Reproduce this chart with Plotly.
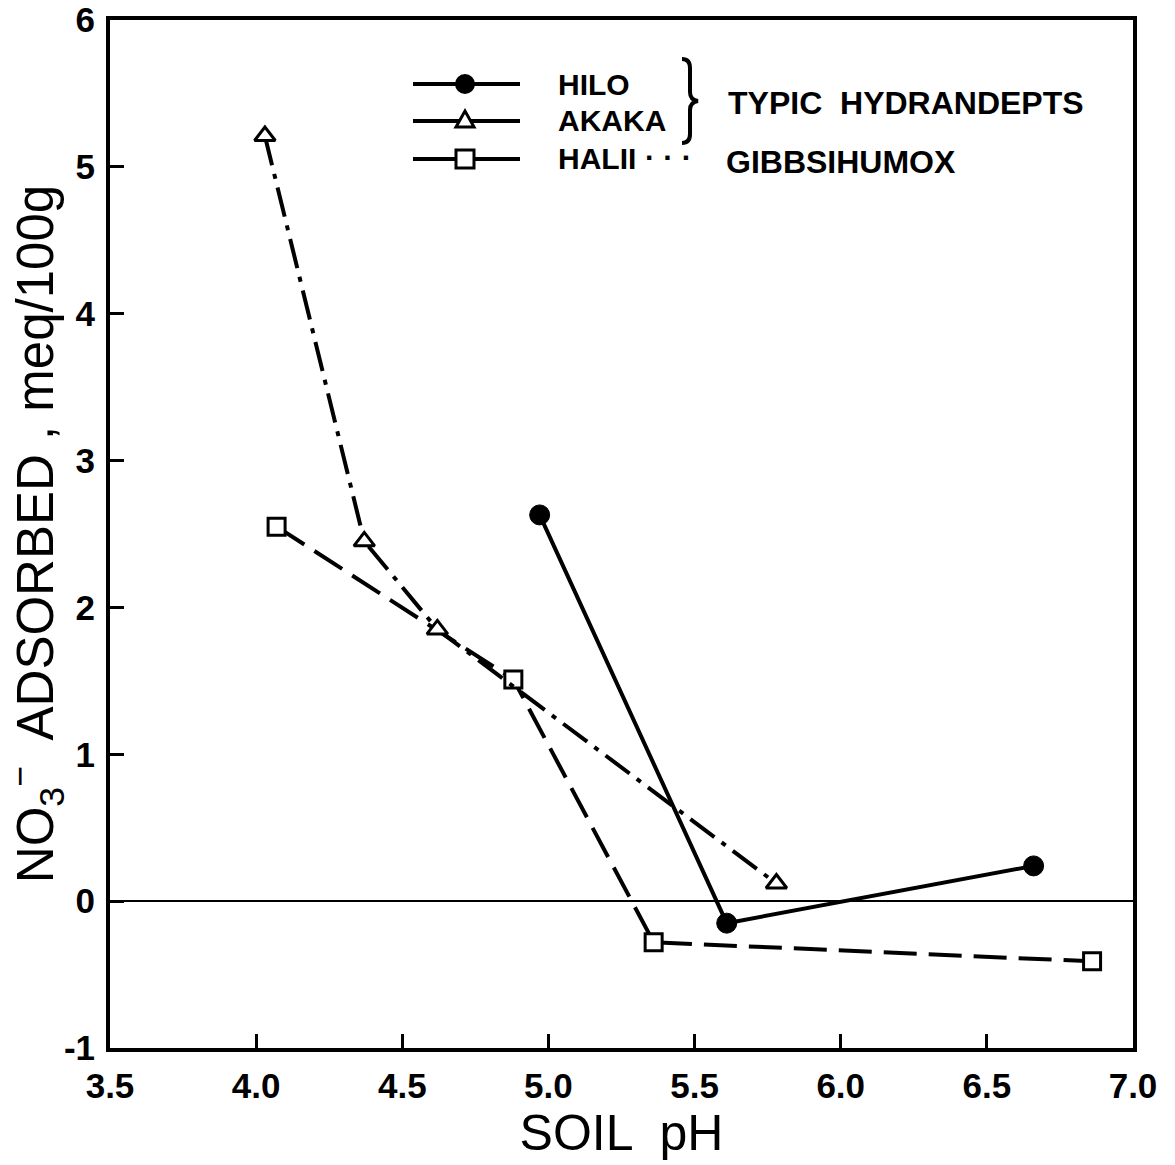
import plotly.graph_objects as go

# ---- data ----
hilo_ph = [4.97, 5.61, 6.66]
hilo_no3 = [2.63, -0.15, 0.24]

akaka_ph = [4.03, 4.37, 4.62, 5.78]
akaka_no3 = [5.21, 2.45, 1.85, 0.12]

halii_ph = [4.07, 4.88, 5.36, 6.86]
halii_no3 = [2.55, 1.51, -0.28, -0.41]

x_ticks = [3.5, 4.0, 4.5, 5.0, 5.5, 6.0, 6.5, 7.0]
x_tick_text = ["3.5", "4.0", "4.5", "5.0", "5.5", "6.0", "6.5", "7.0"]
y_ticks = [-1, 0, 1, 2, 3, 4, 5, 6]
y_tick_text = ["-1", "0", "1", "2", "3", "4", "5", "6"]

# ---- layout geometry (pixels) ----
FW, FH = 1175, 1165
L, R, T, B = 110, 1133, 20, 1048


def pxx(x):
    return (x - L) / (R - L)


def pxy(y):
    return 1 - (y - T) / (B - T)


FONT = "Liberation Sans, Arial, sans-serif"
LW = 4

fig = go.Figure()

fig.add_trace(go.Scatter(
    x=halii_ph, y=halii_no3, mode="lines+markers", name="HALII",
    line=dict(color="black", width=LW, dash="33px,12px"),
    marker=dict(symbol="square", size=17, color="white",
                line=dict(color="black", width=3)),
))
fig.add_trace(go.Scatter(
    x=akaka_ph, y=akaka_no3, mode="lines+markers", name="AKAKA",
    line=dict(color="black", width=LW, dash="30px,9px,5px,9px"),
    marker=dict(symbol="triangle-up", size=18, color="white",
                line=dict(color="black", width=3)),
))
fig.add_trace(go.Scatter(
    x=hilo_ph, y=hilo_no3, mode="lines+markers", name="HILO",
    line=dict(color="black", width=LW),
    marker=dict(symbol="circle", size=20, color="black",
                line=dict(color="black", width=1)),
))

shapes = []
annotations = []

# custom legend
rows = [(84, "HILO", "circle"), (121, "AKAKA", "triangle"), (159, "HALII", "square")]
for yy, label, sym in rows:
    shapes.append(dict(type="line", xref="paper", yref="paper",
                       x0=pxx(413), x1=pxx(520), y0=pxy(yy), y1=pxy(yy),
                       line=dict(color="black", width=LW)))
    if sym == "circle":
        shapes.append(dict(type="circle", xref="paper", yref="paper",
                           xsizemode="pixel", ysizemode="pixel",
                           xanchor=pxx(465), yanchor=pxy(yy),
                           x0=-9, x1=9, y0=-9, y1=9,
                           fillcolor="black", line=dict(color="black", width=2)))
    elif sym == "triangle":
        shapes.append(dict(type="path", xref="paper", yref="paper",
                           xsizemode="pixel", ysizemode="pixel",
                           xanchor=pxx(465), yanchor=pxy(yy),
                           path="M -9,-6 L 9,-6 L 0,10 Z",
                           fillcolor="white", line=dict(color="black", width=3)))
    else:
        shapes.append(dict(type="rect", xref="paper", yref="paper",
                           xsizemode="pixel", ysizemode="pixel",
                           xanchor=pxx(465), yanchor=pxy(yy),
                           x0=-9, x1=9, y0=-9, y1=9,
                           fillcolor="white", line=dict(color="black", width=3)))
    annotations.append(dict(xref="paper", yref="paper", x=pxx(556), y=pxy(yy),
                            xanchor="left", yanchor="middle", showarrow=False,
                            text="<b>" + label + "</b>",
                            font=dict(family=FONT, size=30, color="black")))

# curly brace grouping HILO and AKAKA
shapes.append(dict(type="path", xref="paper", yref="paper",
                   xsizemode="pixel", ysizemode="pixel",
                   xanchor=pxx(690), yanchor=pxy(101),
                   path="M -8,42 Q 0,42 0,33 L 0,9 Q 0,1 8,0 Q 0,-1 0,-9 L 0,-33 Q 0,-42 -8,-42",
                   line=dict(color="black", width=4)))

annotations.append(dict(xref="paper", yref="paper", x=pxx(726), y=pxy(103),
                        xanchor="left", yanchor="middle", showarrow=False,
                        text="<b>TYPIC  HYDRANDEPTS</b>",
                        font=dict(family=FONT, size=32, color="black")))
annotations.append(dict(xref="paper", yref="paper", x=pxx(668), y=pxy(158),
                        xanchor="center", yanchor="middle", showarrow=False,
                        text="<b>· · ·</b>",
                        font=dict(family=FONT, size=30, color="black")))
annotations.append(dict(xref="paper", yref="paper", x=pxx(724), y=pxy(162),
                        xanchor="left", yanchor="middle", showarrow=False,
                        text="<b>GIBBSIHUMOX</b>",
                        font=dict(family=FONT, size=32, color="black")))

fig.update_layout(
    width=FW, height=FH,
    margin=dict(l=L, r=FW - R, t=T, b=FH - B, autoexpand=False),
    paper_bgcolor="white", plot_bgcolor="white",
    showlegend=False,
    shapes=shapes, annotations=annotations,
    font=dict(family=FONT, color="black"),
)

fig.update_xaxes(
    range=[3.5, 7.0], tickvals=x_ticks,
    ticktext=["<b>" + t + "</b>" for t in x_tick_text],
    ticks="inside", ticklen=14, tickwidth=3, tickcolor="black",
    showline=True, linecolor="black", linewidth=LW, mirror=True,
    showgrid=False, zeroline=False, automargin=False,
    tickfont=dict(family=FONT, size=35, color="black"),
    ticklabelstandoff=4,
    title=dict(text="SOIL  pH", font=dict(family=FONT, size=50, color="black"),
               standoff=8),
)
fig.update_yaxes(
    range=[-1, 6], tickvals=y_ticks,
    ticktext=["<b>" + t + "</b>" for t in y_tick_text],
    ticks="inside", ticklen=14, tickwidth=3, tickcolor="black",
    showline=True, linecolor="black", linewidth=LW, mirror=True,
    showgrid=False, zeroline=True, zerolinecolor="black", zerolinewidth=2,
    automargin=False,
    tickfont=dict(family=FONT, size=35, color="black"),
    ticklabelstandoff=4,
    title=dict(text="NO<sub>3</sub><sup>−</sup>  ADSORBED , meq/100g",
               font=dict(family=FONT, size=51, color="black"), standoff=12),
)

fig.write_html("out.html")
